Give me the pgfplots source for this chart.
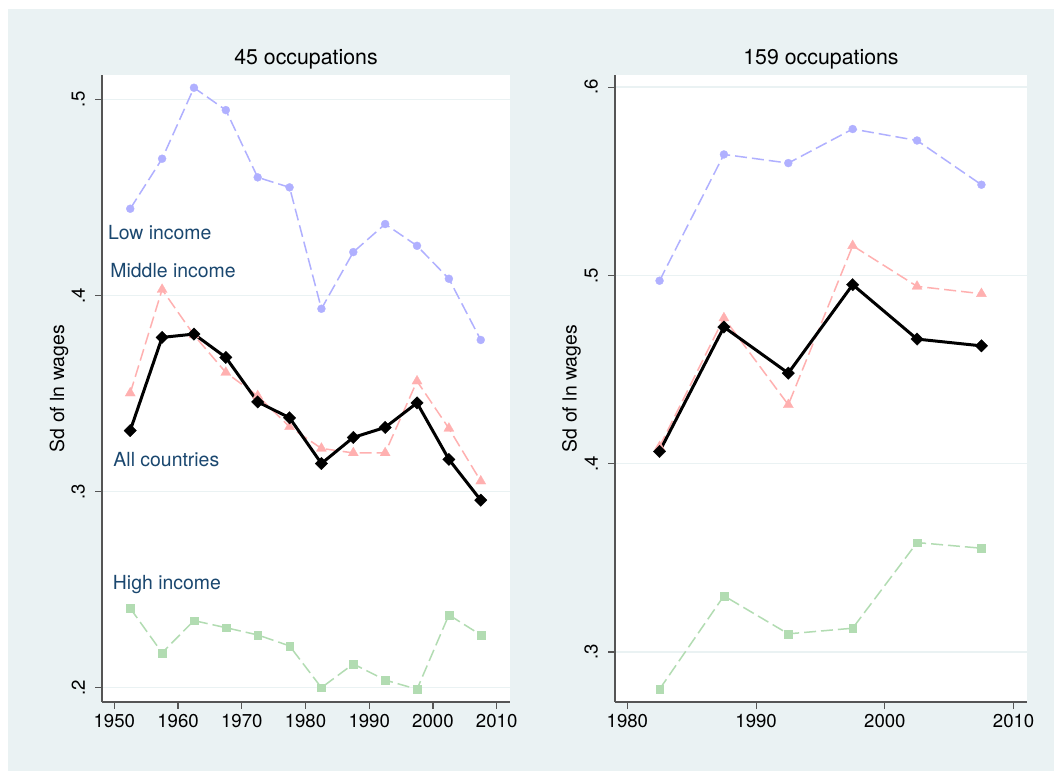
\documentclass[border=0pt]{standalone}
\usepackage{fontspec}
\setmainfont{TeX Gyre Heros}
\usepackage{pgfplots}
\pgfplotsset{compat=1.18}
\definecolor{bg}{HTML}{EAF2F3}
\definecolor{gridc}{HTML}{EAF2F3}
\definecolor{lowc}{HTML}{B0B0FF}
\definecolor{midc}{HTML}{FFB0B0}
\definecolor{highc}{HTML}{B2DCB2}
\definecolor{labc}{HTML}{1A476F}
\definecolor{axc}{HTML}{555555}
\newcommand{\tickfont}{\fontsize{18.7}{20}\selectfont}
\newcommand{\labfont}{\fontsize{19.5}{22}\selectfont}
\newcommand{\titfont}{\fontsize{21.4}{24}\selectfont}
\pgfplotsset{
  stata/.style={
    scale only axis,
    axis background/.style={fill=white},
    axis x line*=bottom, axis y line*=left,
    axis line style={axc, line width=1.2bp, -},
    tick align=outside, major tick length=7bp,
    tick style={axc, line width=1.2bp},
    ymajorgrids, grid style={gridc, line width=1.5bp},
    x tick label style={font=\tickfont, inner sep=0pt, anchor=north},
    y tick label style={font=\tickfont, rotate=90, anchor=south, inner sep=0pt},
    xticklabel shift=5bp, yticklabel shift=10bp,
    /pgf/number format/assume math mode=true,
    every axis title/.style={at={(0.5,1)}, anchor=base, yshift=10.7bp, font=\titfont, inner sep=0pt},
    every axis y label/.style={at={(-0.093,0.5)}, rotate=90, anchor=base, font=\labfont, inner sep=0pt},
    ylabel={Sd of ln wages},
    clip=false,
  },
  lowp/.style={lowc, line width=1.5bp, dash pattern=on 12bp off 5bp, mark=*, mark size=4bp, mark options={solid, fill=lowc, draw=lowc, line width=0.3bp}},
  midp/.style={midc, line width=1.5bp, dash pattern=on 12bp off 5bp, mark=triangle*, mark size=5.8bp, mark options={solid, fill=midc, draw=midc, line width=0.3bp}},
  highp/.style={highc, line width=1.5bp, dash pattern=on 12bp off 5bp, mark=square*, mark size=3.9bp, mark options={solid, fill=highc, draw=highc, line width=0.3bp}},
  allp/.style={black, line width=3bp, mark=square*, mark size=4.4bp, mark options={solid, rotate=45, fill=black, draw=black, line width=0.3bp}},
}
\begin{document}
\begin{tikzpicture}
\useasboundingbox (0,0) rectangle (1054bp,771bp);
\fill[white] (0,0) rectangle (1054bp,771bp);
\fill[bg] (8bp,0) rectangle (1054bp,762bp);
% Left panel
\begin{axis}[stata,
  at={(102bp,69bp)}, anchor=south west,
  width=408bp, height=627bp,
  xmin=1948.07, xmax=2012.09, ymin=0.1927, ymax=0.5124,
  xtick={1950,1960,1970,1980,1990,2000,2010},
  xticklabels={1950,1960,1970,1980,1990,2000,2010},
  ytick={0.2,0.3,0.4,0.5}, yticklabels={.2,.3,.4,.5},
  title={45 occupations},
]
\addplot[lowp] coordinates {(1952.5,0.4442) (1957.5,0.4697) (1962.5,0.5059) (1967.5,0.4945) (1972.5,0.4602) (1977.5,0.4551) (1982.5,0.3932) (1987.5,0.4221) (1992.5,0.4364) (1997.5,0.4253) (2002.5,0.4085) (2007.5,0.3773)};
\addplot[highp] coordinates {(1952.5,0.2405) (1957.5,0.2178) (1962.5,0.2342) (1967.5,0.2306) (1972.5,0.2269) (1977.5,0.2213) (1982.5,0.2000) (1987.5,0.2121) (1992.5,0.2039) (1997.5,0.1992) (2002.5,0.2371) (2007.5,0.2269)};
\addplot[midp] coordinates {(1952.5,0.3502) (1957.5,0.4030) (1962.5,0.3798) (1967.5,0.3607) (1972.5,0.3488) (1977.5,0.3330) (1982.5,0.3220) (1987.5,0.3197) (1992.5,0.3197) (1997.5,0.3563) (2002.5,0.3322) (2007.5,0.3053)};
\addplot[allp] coordinates {(1952.5,0.3311) (1957.5,0.3786) (1962.5,0.3803) (1967.5,0.3684) (1972.5,0.3457) (1977.5,0.3376) (1982.5,0.3143) (1987.5,0.3276) (1992.5,0.3327) (1997.5,0.3452) (2002.5,0.3164) (2007.5,0.2956)};
\node[anchor=base west, inner sep=0pt, text=labc, font=\labfont] at (axis cs:1948.98,0.4286) {Low income};
\node[anchor=base west, inner sep=0pt, text=labc, font=\labfont] at (axis cs:1949.36,0.4092) {Middle income};
\node[anchor=base west, inner sep=0pt, text=labc, font=\labfont] at (axis cs:1949.84,0.3126) {All countries};
\node[anchor=base west, inner sep=0pt, text=labc, font=\labfont] at (axis cs:1949.76,0.2502) {High income};
\end{axis}
% Right panel
\begin{axis}[stata,
  at={(615bp,69bp)}, anchor=south west,
  width=412bp, height=627bp,
  xmin=1979.04, xmax=2011.04, ymin=0.2734, ymax=0.6065,
  xtick={1980,1990,2000,2010},
  xticklabels={1980,1990,2000,2010},
  ytick={0.3,0.4,0.5,0.6}, yticklabels={.3,.4,.5,.6},
  title={159 occupations},
]
\addplot[lowp] coordinates {(1982.5,0.4972) (1987.5,0.5643) (1992.5,0.5597) (1997.5,0.5778) (2002.5,0.5717) (2007.5,0.5482)};
\addplot[highp] coordinates {(1982.5,0.2802) (1987.5,0.3298) (1992.5,0.3096) (1997.5,0.3126) (2002.5,0.3581) (2007.5,0.3551)};
\addplot[midp] coordinates {(1982.5,0.4090) (1987.5,0.4774) (1992.5,0.4313) (1997.5,0.5158) (2002.5,0.4942) (2007.5,0.4903)};
\addplot[allp] coordinates {(1982.5,0.4065) (1987.5,0.4726) (1992.5,0.4481) (1997.5,0.4951) (2002.5,0.4662) (2007.5,0.4626)};
\end{axis}
\end{tikzpicture}
\end{document}
